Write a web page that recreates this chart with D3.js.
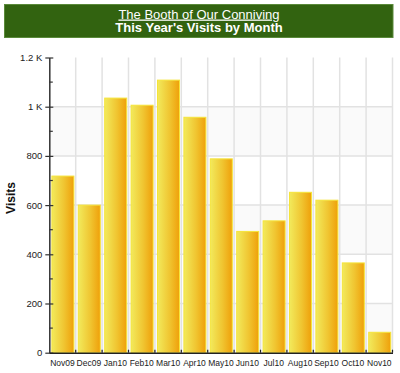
<!DOCTYPE html>
<html>
<head>
<meta charset="utf-8">
<script src="https://cdn.jsdelivr.net/npm/d3@7"></script>
<style>
  body { margin: 0; background: #fff; font-family: "Liberation Sans", Arial, sans-serif; }
  svg text { font-family: "Liberation Sans", Arial, sans-serif; }
</style>
</head>
<body>
<svg id="chart" width="400" height="373"></svg>
<script>
// data
const months = ['Nov09','Dec09','Jan10','Feb10','Mar10','Apr10','May10','Jun10','Jul10','Aug10','Sep10','Oct10','Nov10'];
const visits = [718, 600, 1035, 1006, 1108, 957, 788, 493, 536, 652, 620, 365, 83];
const yTicks = [0, 200, 400, 600, 800, 1000, 1200];
const yTickLabels = ['0', '200', '400', '600', '800', '1 K', '1.2 K'];

const svg = d3.select('#chart');
const plotLeft = 49.3, plotRight = 392.5, plotTop = 57.5, plotBottom = 352.7;

/* banner */
svg.append('rect')
  .attr('x', 4.5).attr('y', 4.5).attr('width', 388.5).attr('height', 33)
  .style('fill', '#326310').style('stroke', '#5a8a3a').style('stroke-width', 1);

svg.append('text')
  .attr('x', 199).attr('y', 18.5)
  .attr('text-anchor', 'middle')
  .style('font-size', '13px').style('fill', '#fff')
  .style('text-decoration', 'underline')
  .text('The Booth of Our Conniving');

svg.append('text')
  .attr('x', 199).attr('y', 32)
  .attr('text-anchor', 'middle')
  .style('font-size', '13px').style('font-weight', 'bold').style('fill', '#fff')
  .text("This Year's Visits by Month");

/* scales */
var x = d3.scaleBand().domain(months).range([plotLeft, plotRight]).paddingInner(0).paddingOuter(0);
var y = d3.scaleLinear().domain([0, 1200]).range([plotBottom, plotTop]);

/* gradient for bars */
var defs = svg.append('defs');
var grad = defs.append('linearGradient').attr('id', 'barGrad')
  .attr('x1', '0%').attr('x2', '100%').attr('y1', '0%').attr('y2', '0%');
grad.append('stop').attr('offset', '0%').attr('stop-color', '#f2ea5c');
grad.append('stop').attr('offset', '55%').attr('stop-color', '#f0c531');
grad.append('stop').attr('offset', '100%').attr('stop-color', '#efa00a');

/* background stripes */
var plot = svg.append('g');
plot.selectAll('rect.stripe')
  .data(d3.pairs(yTicks))
  .enter()
  .append('rect')
  .attr('class', 'stripe')
  .attr('x', plotLeft)
  .attr('y', d => y(d[1]))
  .attr('width', plotRight - plotLeft)
  .attr('height', d => y(d[0]) - y(d[1]))
  .style('fill', (d, i) => i % 2 == 0 ? '#fafafa' : '#ffffff');

/* grid */
plot.selectAll('line.hgrid')
  .data(yTicks.slice(1, -1))
  .enter()
  .append('line')
  .attr('x1', plotLeft).attr('x2', plotRight)
  .attr('y1', d => y(d)).attr('y2', d => y(d))
  .style('stroke', '#e2e2e2').style('stroke-width', 1.5);

plot.selectAll('line.vgrid')
  .data(months.slice(1).concat(['end']))
  .enter()
  .append('line')
  .attr('x1', d => d == 'end' ? plotRight : x(d))
  .attr('x2', d => d == 'end' ? plotRight : x(d))
  .attr('y1', plotTop).attr('y2', plotBottom)
  .style('stroke', '#e2e2e2').style('stroke-width', 1.5);

/* bars */
var bw = x.bandwidth();
plot.selectAll('rect.bar')
  .data(months)
  .enter()
  .append('rect')
  .attr('class', 'bar')
  .attr('x', d => x(d) + 2.6)
  .attr('y', (d, i) => y(visits[i]))
  .attr('width', bw - 4.4)
  .attr('height', (d, i) => plotBottom - y(visits[i]))
  .style('fill', 'url(#barGrad)')
  .style('stroke', '#f5e43a')
  .style('stroke-width', 1);

/* y axis */
var yAxis = d3.axisLeft(y)
  .tickValues(yTicks)
  .tickFormat((d, i) => yTickLabels[i])
  .tickSizeInner(4).tickSizeOuter(0).tickPadding(3);

var gy = svg.append('g').attr('transform', 'translate(' + plotLeft + ',0)').call(yAxis);
gy.select('.domain').style('stroke', '#333').style('stroke-width', 1.5);
gy.selectAll('.tick line').attr('x1', 4).attr('x2', -4).style('stroke', '#333').style('stroke-width', 1.2);
gy.selectAll('.tick text').style('font-size', '9.5px').style('fill', '#222');

// minor ticks
gy.selectAll('line.minor')
  .data(d3.range(100, 1200, 200))
  .enter()
  .append('line')
  .attr('x1', 0).attr('x2', 3.5)
  .attr('y1', d => y(d)).attr('y2', d => y(d))
  .style('stroke', '#333').style('stroke-width', 1.2);

/* x axis */
var xAxis = d3.axisBottom(x).tickSize(0).tickPadding(7);
var gx = svg.append('g').attr('transform', 'translate(0,' + plotBottom + ')').call(xAxis);
gx.select('.domain').style('stroke', '#222').style('stroke-width', 1.5);
gx.selectAll('.tick text').style('font-size', '8.5px').style('fill', '#222');

gx.selectAll('line.xtick')
  .data(months.slice(1).concat(['end']))
  .enter()
  .append('line')
  .attr('x1', d => d == 'end' ? plotRight : x(d))
  .attr('x2', d => d == 'end' ? plotRight : x(d))
  .attr('y1', -3).attr('y2', 0)
  .style('stroke', '#222').style('stroke-width', 1.2);

/* y title */
svg.append('text')
  .attr('transform', 'translate(15,198) rotate(-90)')
  .attr('text-anchor', 'middle')
  .style('font-size', '12px').style('font-weight', 'bold').style('fill', '#111')
  .text('Visits');
</script>
</body>
</html>
